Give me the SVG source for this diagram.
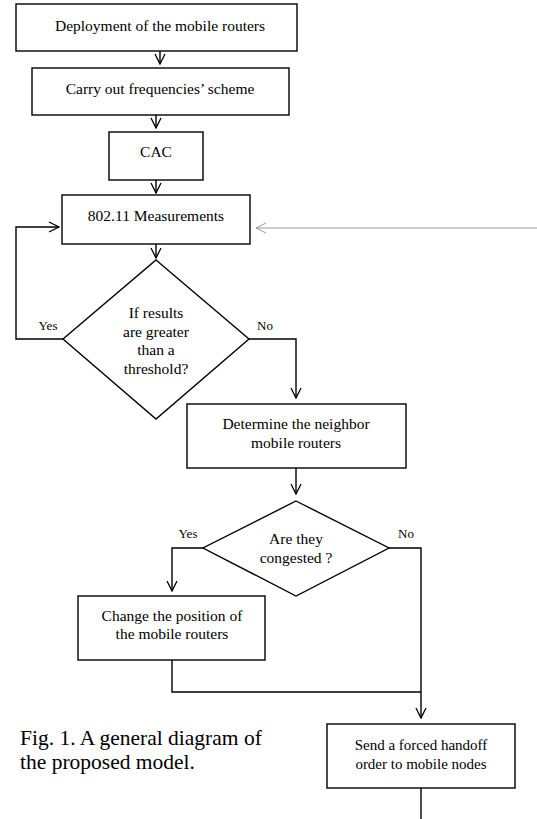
<svg xmlns="http://www.w3.org/2000/svg" width="537" height="819" viewBox="0 0 537 819">
<style>
.box{fill:#fff;stroke:#000;stroke-width:1.4}
.t{font-family:"Liberation Serif",serif;font-size:15.5px;fill:#000;text-anchor:middle}
.m{font-family:"Liberation Serif",serif;font-size:15px;fill:#000;text-anchor:middle}
.s{font-family:"Liberation Serif",serif;font-size:13px;fill:#000;text-anchor:middle}
.c{font-family:"Liberation Serif",serif;font-size:21.5px;fill:#000}
.ln{fill:none;stroke:#000;stroke-width:1.4}
.gl{fill:none;stroke:#999;stroke-width:1.2}
</style>
<defs>
<marker id="ah" viewBox="0 0 12 12" refX="11" refY="6" markerWidth="12" markerHeight="12" markerUnits="userSpaceOnUse" orient="auto">
<path d="M1,1 L11,6 L1,11" fill="none" stroke="#000" stroke-width="1.3"/>
</marker>
<marker id="ahg" viewBox="0 0 12 12" refX="11" refY="6" markerWidth="12" markerHeight="12" markerUnits="userSpaceOnUse" orient="auto">
<path d="M1,1 L11,6 L1,11" fill="none" stroke="#999" stroke-width="1"/>
</marker>
</defs>
<rect width="537" height="819" fill="#fff"/>
<g id="connectors">
<path class="ln" d="M160,51 V64" marker-end="url(#ah)"/>
<path class="ln" d="M156,115 V128" marker-end="url(#ah)"/>
<path class="ln" d="M156,180 V193" marker-end="url(#ah)"/>
<path class="ln" d="M156,244 V258" marker-end="url(#ah)"/>
<path class="gl" d="M537,228 H256" marker-end="url(#ahg)"/>
<path class="ln" d="M63,339 H16 V227 H59" marker-end="url(#ah)"/>
<path class="ln" d="M249,339 H296 V398" marker-end="url(#ah)"/>
<path class="ln" d="M296,468 V494" marker-end="url(#ah)"/>
<path class="ln" d="M203,548 H172 V591" marker-end="url(#ah)"/>
<path class="ln" d="M389,548 H421 V718" marker-end="url(#ah)"/>
<path class="ln" d="M172,660 V692 H421"/>
<path class="ln" d="M421,788 V819"/>
<text class="s" x="48" y="330">Yes</text>
<text class="s" x="265" y="330">No</text>
<text class="s" x="188" y="538">Yes</text>
<text class="s" x="406" y="538">No</text>
</g>
<g id="n1"><rect class="box" x="16" y="4" width="281" height="47"/><text class="t" x="160" y="31">Deployment of the mobile routers</text></g>
<g id="n2"><rect class="box" x="32" y="68" width="257" height="47"/><text class="t" x="160" y="94">Carry out frequencies’ scheme</text></g>
<g id="n3"><rect class="box" x="109" y="132" width="94" height="48"/><text class="t" x="156" y="157">CAC</text></g>
<g id="n4"><rect class="box" x="62" y="195" width="188" height="49"/><text class="t" x="156" y="221">802.11 Measurements</text></g>
<g id="d1"><polygon class="box" points="156,260 249,339 156,419 63,339"/>
<text class="t" x="156" y="318">If results</text><text class="t" x="156" y="337">are greater</text><text class="t" x="156" y="355">than a</text><text class="t" x="156" y="374">threshold?</text></g>
<g id="n5"><rect class="box" x="187" y="404" width="219" height="64"/><text class="t" x="296" y="429">Determine the neighbor</text><text class="t" x="296" y="448">mobile routers</text></g>
<g id="d2"><polygon class="box" points="296,501 389,548 296,596 203,548"/>
<text class="t" x="296" y="544">Are they</text><text class="t" x="296" y="563">congested ?</text></g>
<g id="n6"><rect class="box" x="78" y="596" width="187" height="64"/><text class="t" x="172" y="621">Change the position of</text><text class="t" x="172" y="639">the mobile routers</text></g>
<g id="n7"><rect class="box" x="327" y="724" width="188" height="64"/><text class="m" x="421" y="750">Send a forced handoff</text><text class="m" x="421" y="769">order to mobile nodes</text></g>
<text class="c" x="20" y="745">Fig. 1. A general diagram of</text>
<text class="c" x="20" y="769">the proposed model.</text>
</svg>
